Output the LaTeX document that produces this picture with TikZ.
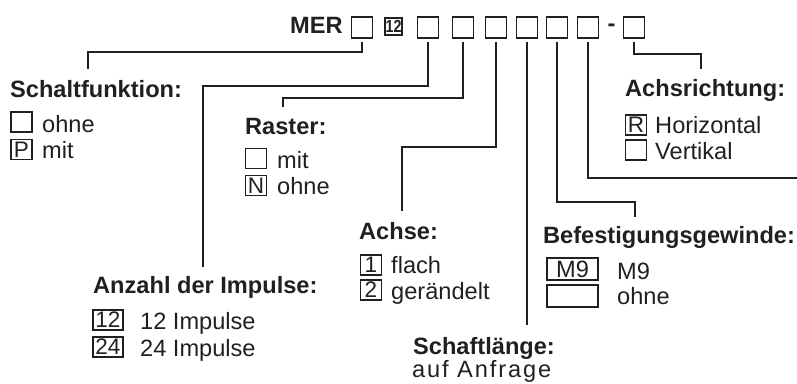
\documentclass[tikz,border=0pt]{standalone}
\usepackage{fontspec}
\setmainfont{Liberation Sans}
\definecolor{ink}{HTML}{231F20}
\begin{document}
\begin{tikzpicture}[x=1pt,y=-1pt,
  txt/.style={anchor=base west,inner sep=0pt,text=ink,font=\fontsize{23.6}{28}\selectfont},
  head/.style={anchor=base west,inner sep=0pt,text=ink,font=\fontsize{23.6}{28}\selectfont\bfseries},
  topbox/.style={draw=ink,line width=1.2pt,minimum width=21pt,minimum height=21pt,inner sep=0pt},
  optbox/.style={draw=ink,line width=1.2pt,minimum width=21pt,minimum height=20pt,inner sep=0pt,text=ink,font=\fontsize{22.5}{22}\selectfont},
  conn/.style={draw=ink,line width=1.8pt}]
\useasboundingbox (0,0) rectangle (797,383);

% top code line
\node[head,anchor=base west] (mer) at (290,33) {MER};
\node[topbox] (t1) at (362,27.5) {};
\node[draw=ink,line width=1.2pt,minimum size=17pt,inner sep=0pt,text=ink,
      font=\fontsize{17.5}{17}\selectfont\bfseries] (t2) at (393.5,26.5) {\scalebox{0.82}[1]{12}};
\node[topbox] (t3) at (428,27.5) {};
\node[topbox] (t4) at (463,27.5) {};
\node[topbox] (t5) at (496,27.5) {};
\node[topbox] (t6) at (527,27.5) {};
\node[topbox] (t7) at (557,27.5) {};
\node[topbox] (t8) at (588,27.5) {};
\node[head,anchor=center] (dash) at (611.5,27.5) {-};
\node[topbox] (t9) at (634,27.5) {};

% Schaltfunktion
\node[head] (hs) at (10,97) {Schaltfunktion:};
\node[optbox] (s1) at (21.5,122) {};
\node[txt] (s1t) at (42,132) {ohne};
\node[optbox] (s2) at (21.5,149.5) {P};
\node[txt] (s2t) at (42,158) {mit};

% Raster
\node[head] (hr) at (245,134) {Raster:};
\node[optbox] (r1) at (256,158.5) {};
\node[txt] (r1t) at (277,168) {mit};
\node[optbox] (r2) at (256,185.5) {N};
\node[txt] (r2t) at (277,194) {ohne};

% Achse
\node[head] (ha) at (359,239) {Achse:};
\node[optbox] (a1) at (371,265) {1};
\node[txt] (a1t) at (391,273) {flach};
\node[optbox] (a2) at (371,290) {2};
\node[txt] (a2t) at (391,299) {gerändelt};

% Schaftlaenge
\node[head] (hl) at (413,354) {Schaftlänge:};
\node[txt,font=\fontsize{23.6}{28}\selectfont\addfontfeature{LetterSpace=8}] (hlt) at (412,377) {auf Anfrage};

% Befestigungsgewinde
\node[head] (hb) at (543,243) {Befestigungsgewinde:};
\node[optbox,minimum width=51pt,minimum height=22pt,font=\fontsize{23.6}{24}\selectfont] (b1) at (572.5,269) {M9};
\node[txt] (b1t) at (617,279) {M9};
\node[optbox,minimum width=51pt,minimum height=22pt] (b2) at (572.5,296) {};
\node[txt] (b2t) at (617,304) {ohne};

% Achsrichtung
\node[head] (hx) at (625,96) {Achsrichtung:};
\node[optbox] (x1) at (636,125) {R};
\node[txt] (x1t) at (655,133) {Horizontal};
\node[optbox] (x2) at (636,150) {};
\node[txt] (x2t) at (655,159) {Vertikal};

% Anzahl der Impulse
\node[head] (hi) at (93,293) {Anzahl der Impulse:};
\node[optbox,minimum width=30pt] (i1) at (108,320) {12};
\node[txt] (i1t) at (140,329) {12 Impulse};
\node[optbox,minimum width=30pt] (i2) at (108,347) {24};
\node[txt] (i2t) at (140,356) {24 Impulse};

% connector ends and corners
\coordinate (k1) at (88,52);   \coordinate (e1) at (88,69);
\coordinate (k3) at (203,86);  \coordinate (e3) at (203,267);
\coordinate (k4) at (283,98);  \coordinate (e4) at (283,107);
\coordinate (k5) at (402,147); \coordinate (e5) at (402,211);
\coordinate (e6) at (527,325);
\coordinate (k7) at (635,202); \coordinate (e7) at (635,217);
\coordinate (e8) at (797,178);
\coordinate (k9) at (701,54);  \coordinate (e9) at (701,69);

\draw[conn] ([yshift=-3pt]t1.south) |- (k1) -- (e1);
\draw[conn] ([yshift=-3pt]t3.south) |- (k3) -- (e3);
\draw[conn] ([yshift=-3pt]t4.south) |- (k4) -- (e4);
\draw[conn] ([yshift=-3pt]t5.south) |- (k5) -- (e5);
\draw[conn] ([yshift=-3pt]t6.south) -- (e6);
\draw[conn] ([yshift=-3pt]t7.south) |- (k7) -- (e7);
\draw[conn] ([yshift=-3pt]t8.south) |- (e8);
\draw[conn] ([yshift=-3pt]t9.south) |- (k9) -- (e9);
\end{tikzpicture}
\end{document}
